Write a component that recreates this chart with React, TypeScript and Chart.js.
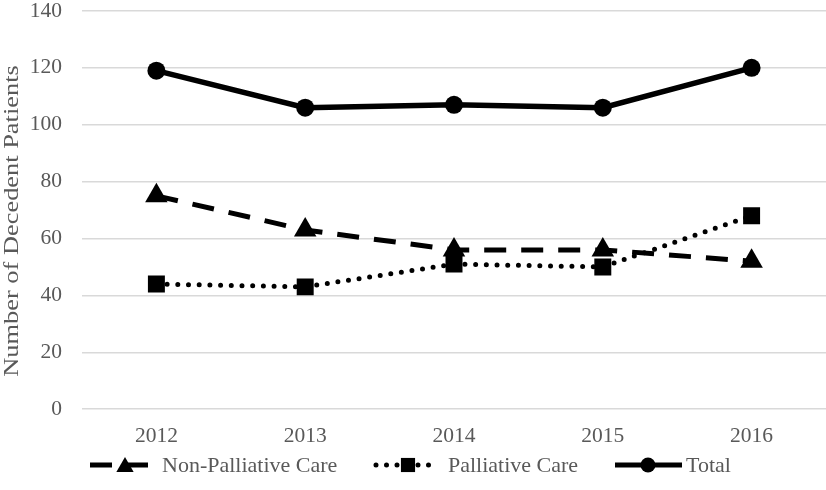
import React, { useEffect, useRef } from "react";
import { Chart, registerables } from "chart.js";

Chart.register(...registerables);

const years = ["2012", "2013", "2014", "2015", "2016"];
const nonPalliative = [75, 63, 56, 56, 52];
const palliative = [44, 43, 51, 50, 68];
const total = [119, 106, 107, 106, 120];
const yTicks = { min: 0, max: 140, step: 20 };
const yTitle = "Number of Decedent Patients";
const seriesNames = ["Non-Palliative Care", "Palliative Care", "Total"];

const FONT = "'Liberation Serif', 'Times New Roman', serif";
const GRAY = "#595959";
const SHIFT_Y = 22; // canvas is shifted up by this amount inside the page
const EXTRA_W = 13;

function drawPt(ctx: CanvasRenderingContext2D, style: string, r: number, x: number, y: number) {
  ctx.beginPath();
  if (style === "circle") {
    ctx.arc(x, y, r, 0, Math.PI * 2);
  } else if (style === "rect") {
    const s = Math.SQRT1_2 * r;
    ctx.rect(x - s, y - s, 2 * s, 2 * s);
  } else {
    const w = r * 0.866;
    ctx.moveTo(x, y - r);
    ctx.lineTo(x + w, y + r * 0.5);
    ctx.lineTo(x - w, y + r * 0.5);
    ctx.closePath();
  }
  ctx.fill();
}

const legendPlugin = {
  id: "customLegend",
  afterDraw(chart: any) {
    const ctx: CanvasRenderingContext2D = chart.ctx;
    const y = 465 + SHIFT_Y;
    const items = [
      { x0: 90, x1: 152, mx: 125, tx: 162, label: seriesNames[0], dash: [22, 14], cap: "butt", style: "triangle", r: 10 },
      { x0: 376, x1: 436, mx: 408, tx: 448, label: seriesNames[1], dash: [0, 10.5], cap: "round", style: "rect", r: 10 },
      { x0: 615, x1: 682, mx: 648, tx: 686, label: seriesNames[2], dash: [], cap: "butt", style: "circle", r: 7.5 },
    ];
    ctx.save();
    for (const it of items) {
      ctx.strokeStyle = "#000";
      ctx.lineWidth = 5;
      ctx.lineCap = it.cap as CanvasLineCap;
      ctx.setLineDash(it.dash);
      ctx.beginPath();
      ctx.moveTo(it.x0, y);
      ctx.lineTo(it.x1, y);
      ctx.stroke();
      ctx.setLineDash([]);
      ctx.fillStyle = "#000";
      drawPt(ctx, it.style, it.r, it.mx, y + (it.style === "triangle" ? 2 : 0));
      ctx.fillStyle = GRAY;
      ctx.font = `22px ${FONT}`;
      ctx.textBaseline = "middle";
      ctx.textAlign = "left";
      ctx.fillText(it.label, it.tx, y + 1);
    }
    // y axis title, stretched along its length
    ctx.translate(12, 221 + SHIFT_Y);
    ctx.rotate(-Math.PI / 2);
    ctx.scale(1.2, 1);
    ctx.font = `22px ${FONT}`;
    ctx.textAlign = "center";
    ctx.textBaseline = "middle";
    ctx.fillStyle = GRAY;
    ctx.fillText(yTitle, 0, 0);
    ctx.restore();
  },
};

export default function App() {
  const ref = useRef<HTMLCanvasElement>(null);
  useEffect(() => {
    document.body.style.margin = "0";
    const chart = new Chart(ref.current!, {
      type: "line",
      data: {
        labels: years,
        datasets: [
          {
            label: seriesNames[0],
            data: nonPalliative,
            borderColor: "#000",
            backgroundColor: "#000",
            borderWidth: 5,
            borderDash: [22, 15],
            pointStyle: "triangle",
            pointRadius: 13,
            pointBorderWidth: 0,
            tension: 0,
          },
          {
            label: seriesNames[1],
            data: palliative,
            borderColor: "#000",
            backgroundColor: "#000",
            borderWidth: 5,
            borderDash: [0, 10.7],
            borderCapStyle: "round",
            pointStyle: "rect",
            pointRadius: 12,
            pointBorderWidth: 0,
            tension: 0,
          },
          {
            label: seriesNames[2],
            data: total,
            borderColor: "#000",
            backgroundColor: "#000",
            borderWidth: 5.5,
            pointStyle: "circle",
            pointRadius: 9,
            pointBorderWidth: 0,
            tension: 0,
          },
        ],
      },
      options: {
        animation: false,
        responsive: false,
        layout: { padding: { top: 0, right: 0, bottom: 27, left: 0 } },
        plugins: { legend: { display: false }, tooltip: { enabled: false } },
        scales: {
          x: {
            offset: true,
            grid: { display: false, drawTicks: false },
            border: { display: false },
            ticks: { color: GRAY, font: { family: FONT, size: 21.5 }, padding: 14 },
          },
          y: {
            min: yTicks.min,
            max: yTicks.max,
            afterFit: (s: any) => {
              s.width = 82;
            },
            grid: { color: "#d9d9d9", lineWidth: 1.5, drawTicks: false },
            border: { display: false },
            ticks: { stepSize: yTicks.step, color: GRAY, font: { family: FONT, size: 21.5 }, padding: 20 },
          },
        },
      },
      plugins: [legendPlugin],
    } as any);
    return () => chart.destroy();
  }, []);
  return (
    <div style={{ width: 826, height: 490, overflow: "hidden", position: "relative" }}>
      <canvas
        ref={ref}
        width={826 + EXTRA_W}
        height={490 + SHIFT_Y}
        style={{ position: "absolute", left: 0, top: -SHIFT_Y }}
      />
    </div>
  );
}
